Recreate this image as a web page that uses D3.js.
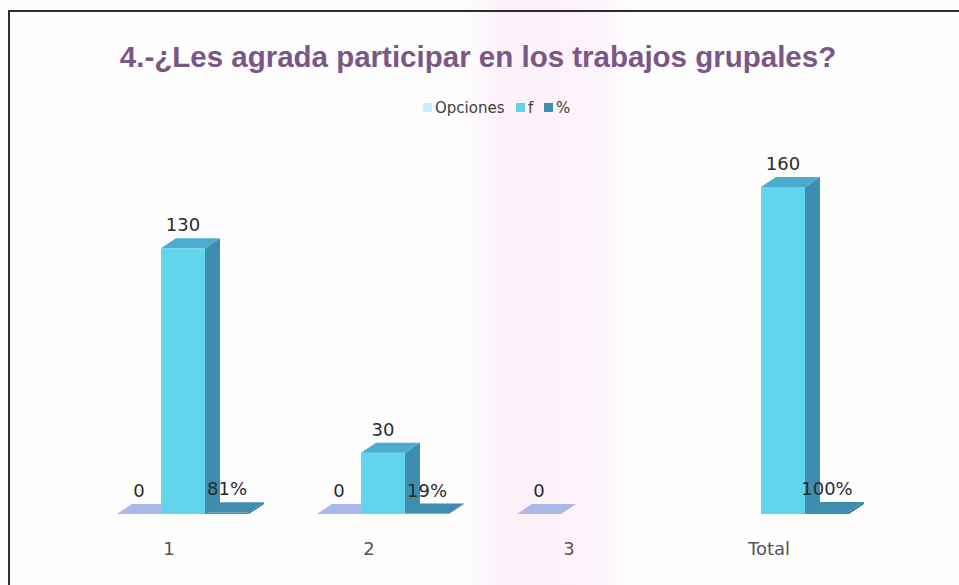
<!DOCTYPE html>
<html>
<head>
<meta charset="utf-8">
<script src="https://cdn.jsdelivr.net/npm/d3@7"></script>
<style>
  body { margin: 0; background: #fefefe; }
  svg { display: block; }
</style>
</head>
<body>
<div id="chart"></div>
<script>
var chart_width  = 959;
var chart_height = 585;

// data
var categories  = ['1', '2', '3', 'Total'];
var series      = ['Opciones', 'f', '%'];
var opciones    = [0, 0, 0, null];
var frecuencia  = [130, 30, null, 160];
var porcentaje  = [0.81, 0.19, null, 1];

var title_text = '4.-¿Les agrada participar en los trabajos grupales?';

// colours per series: front, top, side faces
var faces = {
    'Opciones': { front: '#c6eef6', top: '#aab9e8', side: '#98a9dc', legend: '#c9f0f6' },
    'f':        { front: '#60d5ec', top: '#4aaccf', side: '#3e8cae', legend: '#5fd3ea' },
    '%':        { front: '#3f8fb0', top: '#3f8db0', side: '#2f7394', legend: '#3d8fb2' }
};

// build rows from the arrays
var rows = [];
categories.forEach((c, i) => {
    rows.push({ cat: c, s: 'Opciones', v: opciones[i] });
    rows.push({ cat: c, s: 'f',        v: frecuencia[i] });
    rows.push({ cat: c, s: '%',        v: porcentaje[i] });
});
rows = rows.filter((d) => d.v !== null);

var svg = d3.select('#chart')
            .append('svg')
            .attr('width', chart_width)
            .attr('height', chart_height);

// faint pink band from the scan
var grad = svg.append('defs').append('linearGradient')
              .attr('id', 'scan')
              .attr('x1', 0).attr('x2', 1).attr('y1', 0).attr('y2', 0);
grad.append('stop').attr('offset', '0.48').attr('stop-color', '#fefefe');
grad.append('stop').attr('offset', '0.52').attr('stop-color', '#fdf2fa');
grad.append('stop').attr('offset', '0.62').attr('stop-color', '#fdf3fa');
grad.append('stop').attr('offset', '0.66').attr('stop-color', '#fefefe');

svg.append('rect')
    .attr('width', chart_width)
    .attr('height', chart_height)
    .attr('fill', 'url(#scan)');

// frame (top and left edges only)
svg.append('path')
    .attr('d', 'M9,585 L9,11 L959,11')
    .attr('fill', 'none')
    .attr('stroke', '#2e2e2e')
    .attr('stroke-width', 2);

// title
svg.append('text')
    .text(title_text)
    .attr('x', 478)
    .attr('y', 67)
    .attr('text-anchor', 'middle')
    .attr('font-family', 'Liberation Sans, Arial, sans-serif')
    .attr('font-weight', 'bold')
    .attr('font-size', 29.5)
    .attr('fill', '#7a5786');

// scales
var x0 = d3.scaleBand()
           .domain(categories)
           .range([117, 849])
           .paddingInner(0.34);

var x1 = d3.scaleBand()
           .domain(series)
           .range([0, x0.bandwidth()]);

var y = d3.scaleLinear()
          .domain([0, 160])
          .range([514, 187]);

// 3D depth offset
var dx = 15, dy = 10;

var bars = svg.append('g').selectAll('g')
    .data(rows)
    .enter()
    .append('g');

// side face
bars.filter((d) => d.v > 0)
    .append('polygon')
    .attr('points', (d) => {
        var x = x0(d.cat) + x1(d.s) + x1.bandwidth();
        var t = y(d.v), b = y(0);
        return [[x, t], [x + dx, t - dy], [x + dx, b - dy], [x, b]].join(' ');
    })
    .attr('fill', (d) => faces[d.s].side);

// front face
bars.filter((d) => d.v > 0)
    .append('rect')
    .attr('x', (d) => x0(d.cat) + x1(d.s))
    .attr('y', (d) => y(d.v))
    .attr('width', x1.bandwidth())
    .attr('height', (d) => y(0) - y(d.v))
    .attr('fill', (d) => faces[d.s].front);

// top face
bars.append('polygon')
    .attr('points', (d) => {
        var x = x0(d.cat) + x1(d.s);
        var w = x1.bandwidth();
        var t = y(d.v);
        return [[x, t], [x + dx, t - dy], [x + w + dx, t - dy], [x + w, t]].join(' ');
    })
    .attr('fill', (d) => faces[d.s].top);

// data labels
var pct = d3.format('.0%');
bars.append('text')
    .text((d) => d.s === '%' ? pct(d.v) : d.v)
    .attr('x', (d) => x0(d.cat) + x1(d.s) + x1.bandwidth() / 2)
    .attr('y', (d) => y(d.v) - 17)
    .attr('text-anchor', 'middle')
    .attr('font-family', 'DejaVu Sans, sans-serif')
    .attr('font-size', 18)
    .attr('fill', '#2b2b2b');

// category axis
var x_axis = d3.axisBottom(x0)
               .tickSize(0)
               .tickPadding(7);

var ax = svg.append('g')
    .attr('transform', 'translate(-14,535)')
    .call(x_axis);
ax.select('.domain').remove();
ax.selectAll('text')
    .attr('font-family', 'DejaVu Sans, sans-serif')
    .attr('font-size', 18)
    .attr('fill', '#555');

// legend
var legend = svg.append('g').attr('transform', 'translate(0,108)');
var lx = [423, 516, 544];
series.forEach((s, i) => {
    legend.append('rect')
        .attr('x', lx[i])
        .attr('y', -5)
        .attr('width', 9)
        .attr('height', 9)
        .attr('fill', faces[s].legend);
    legend.append('text')
        .text(s)
        .attr('x', lx[i] + 12)
        .attr('y', 5)
        .attr('font-family', 'DejaVu Sans, sans-serif')
        .attr('font-size', 15)
        .attr('fill', '#404040');
});
</script>
</body>
</html>
